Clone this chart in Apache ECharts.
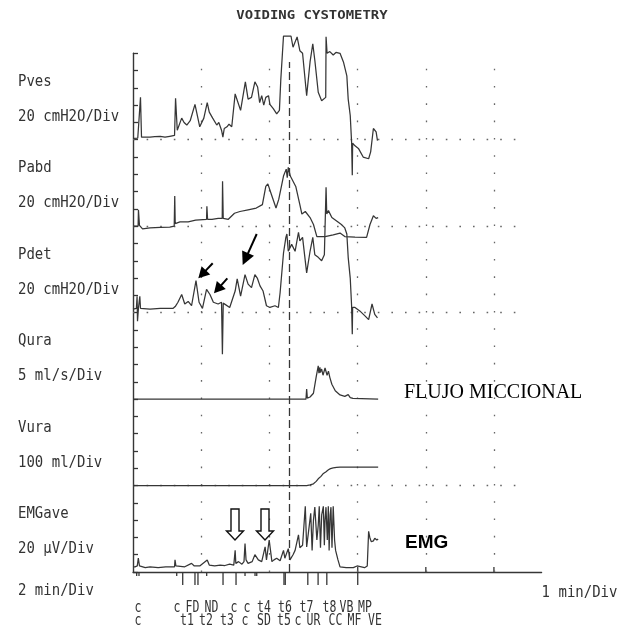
<!DOCTYPE html>
<html><head><meta charset="utf-8">
<script src="https://cdn.jsdelivr.net/npm/echarts@6/dist/echarts.min.js"></script>
<style>html,body{margin:0;padding:0;background:#fff}#c{width:628px;height:631px}</style>
</head><body><div id="c"></div>
<script>
// Time is in chart divisions (2 min/Div before the dashed marker, 1 min/Div after it).
// Each channel occupies 5 divisions; values are in the channel's own unit.
const title = 'VOIDING CYSTOMETRY';
const channelNames  = ['Pves', 'Pabd', 'Pdet', 'Qura', 'Vura', 'EMGave'];
const channelScales = ['20 cmH2O/Div', '20 cmH2O/Div', '20 cmH2O/Div', '5 ml/s/Div', '100 ml/Div', '20 µV/Div'];
const channelPerDiv = [20, 20, 20, 5, 100, 20];
const channelBase   = [25, 20, 15, 10, 5, 0];
const timeLeft = '2 min/Div';
const timeRight = '1 min/Div';

const pves = [[0,1.5],[0.07,2],[0.095,3],[0.11,49],[0.125,3],[0.25,3],[0.32,3.5],[0.40,4],[0.47,3],[0.54,4],[0.61,5],[0.625,48],[0.65,11],[0.715,25],[0.75,20],[0.79,17],[0.84,22],[0.91,41],[0.98,15],[1.04,25],[1.09,43],[1.12,32],[1.17,25],[1.23,17],[1.26,20],[1.30,11],[1.32,3],[1.34,13],[1.38,15],[1.41,18],[1.45,15],[1.50,53],[1.52,55],[1.58,34],[1.65,67],[1.69,47],[1.74,49],[1.79,67],[1.83,61],[1.86,43],[1.89,51],[1.92,40],[1.95,49],[1.99,51],[2.01,41],[2.06,36],[2.11,30],[2.15,34],[2.17,69],[2.21,120],[2.32,120],[2.35,107],[2.41,119],[2.45,103],[2.49,100],[2.54,59],[2.55,51],[2.60,90],[2.64,111],[2.67,92],[2.72,55],[2.77,45],[2.79,43],[2.83,49],[2.835,119],[2.85,100],[2.89,102],[2.94,98],[2.98,101],[3.04,100],[3.09,90],[3.14,74],[3.16,47],[3.19,28],[3.21,-3],[3.22,-41],[3.225,-4],[3.26,-7],[3.31,-10],[3.38,-20],[3.46,-22],[3.49,-14],[3.53,13],[3.57,9],[3.59,-1]];
const pabd = [[0,0],[0.075,0],[0.08,19],[0.095,1],[0.14,-3],[0.25,-2],[0.40,-1.5],[0.54,-1],[0.605,0],[0.613,35],[0.62,3],[0.69,5],[0.81,5],[0.92,7],[1.08,8],[1.085,23],[1.095,8],[1.16,8],[1.25,9],[1.31,9],[1.315,52],[1.325,9],[1.40,8],[1.49,15],[1.57,17],[1.69,19],[1.81,21],[1.90,25],[1.95,46],[1.98,49],[2.04,35],[2.10,21],[2.14,31],[2.21,58],[2.25,66],[2.265,56],[2.28,68],[2.31,58],[2.39,46],[2.45,25],[2.48,14],[2.53,17],[2.60,10],[2.65,2],[2.70,-12],[2.82,-12],[2.94,-10],[3.04,-8],[3.11,-12],[3.26,-12.5],[3.43,-13],[3.48,2],[3.53,12],[3.57,9],[3.60,10]];
const pdet = [[0,4],[0.05,5],[0.06,19],[0.066,-10],[0.08,5],[0.10,19],[0.11,5],[0.25,4],[0.40,5],[0.59,5],[0.62,7],[0.66,12],[0.715,21],[0.76,10],[0.81,13],[0.86,8],[0.925,37],[0.97,12],[1.02,5],[1.08,27],[1.13,21],[1.18,12],[1.25,10],[1.30,12],[1.313,-48],[1.325,11],[1.35,10],[1.42,6],[1.50,25],[1.53,39],[1.58,19],[1.645,44],[1.69,33],[1.74,29],[1.79,44],[1.825,40],[1.865,31],[1.91,25],[1.96,8],[2.01,6],[2.085,8],[2.135,6],[2.16,23],[2.21,69],[2.245,87],[2.26,91],[2.28,71],[2.33,79],[2.38,71],[2.43,93],[2.45,83],[2.49,87],[2.55,46],[2.60,71],[2.64,87],[2.67,67],[2.72,64],[2.77,60],[2.81,67],[2.827,66],[2.835,145],[2.845,114],[2.87,118],[2.92,110],[2.99,106],[3.06,102],[3.11,98],[3.14,91],[3.16,64],[3.19,40],[3.21,8],[3.22,-25],[3.225,6],[3.26,6],[3.33,2],[3.41,-4],[3.46,-8],[3.51,10],[3.55,-2],[3.59,-6]];
const qura = [[0,0],[2.54,0],[2.55,2.9],[2.56,0.3],[2.60,0.6],[2.65,1.7],[2.69,6.4],[2.72,9.6],[2.73,7.5],[2.745,9.2],[2.75,7.7],[2.77,8.7],[2.79,6.9],[2.82,9],[2.85,6.9],[2.87,8.1],[2.89,6.3],[2.92,4.3],[2.97,2.4],[3.04,1.2],[3.11,0.8],[3.16,1.3],[3.19,0.4],[3.23,0.2],[3.60,0]];
const vura = [[0,0],[2.55,0],[2.60,4],[2.65,10],[2.69,24],[2.72,39],[2.76,53],[2.79,68],[2.83,79],[2.87,91],[2.90,98],[2.94,102],[2.99,105],[3.04,106],[3.60,106]];
const emg = [[0,6],[0.03,6],[0.063,7],[0.078,16],[0.095,7],[0.18,5],[0.25,6],[0.37,5],[0.48,6],[0.61,6],[0.617,14],[0.63,7],[0.76,6],[0.86,10],[0.90,7],[0.98,7],[1.09,14],[1.12,8],[1.20,7],[1.28,8],[1.35,7.5],[1.42,9],[1.48,8],[1.50,25],[1.51,10],[1.55,12],[1.60,9],[1.63,12],[1.645,33],[1.66,14],[1.69,10],[1.75,12],[1.79,20],[1.84,14],[1.89,12],[1.94,29],[1.96,14],[2.00,37],[2.04,12],[2.07,14],[2.11,16],[2.16,13],[2.21,25],[2.23,16],[2.28,27],[2.305,14],[2.35,20],[2.38,25],[2.43,43],[2.45,28],[2.49,31],[2.53,76],[2.55,29],[2.575,45],[2.61,68],[2.63,25],[2.65,60],[2.67,75],[2.70,37],[2.72,54],[2.735,76],[2.753,28],[2.771,66],[2.795,76],[2.81,31],[2.82,60],[2.834,75],[2.853,37],[2.868,76],[2.88,25],[2.895,66],[2.907,75],[2.922,28],[2.94,76],[2.96,37],[2.975,25],[2.99,23],[3.01,14],[3.04,6],[3.13,5],[3.235,5],[3.29,7],[3.40,5],[3.44,7],[3.46,47],[3.48,39],[3.50,35],[3.53,36],[3.55,39],[3.58,37],[3.60,38]];
const traces = [pves, pabd, pdet, qura, vura, emg];

// event marks under the time axis and their printed codes
const eventTimes = [0.054,0.088,0.642,0.730,0.910,0.954,1.082,1.322,1.513,1.645,1.792,1.817,2.217,2.236,2.567,2.718,2.846,3.300];
const eventKinds = ['minor','minor','minor','major','major','major','minor','major','major','minor','minor','minor','major','major','major','major','major','major'];
const row1Labels = ['c','c','FD','ND','c','c','t4','t6','t7','t8','VB','MP'];
const row1Times  = [0.073,0.646,0.874,1.153,1.483,1.674,1.924,2.232,2.548,2.885,3.135,3.407];
const row2Labels = ['c','t1','t2','t3','c','SD','t5','c','UR','CC','MF','VE'];
const row2Times  = [0.073,0.793,1.072,1.381,1.645,1.924,2.218,2.423,2.651,2.974,3.253,3.554];
const gridTimes = [1, 2, 3.3, 4.3, 5.3];
const markerTime = 2.295;
const annotFlow = 'FLUJO MICCIONAL';
const annotEmg = 'EMG';

const INK = '#363636';
const chart = echarts.init(document.getElementById('c'), null, {renderer: 'canvas'});

const gridLines = gridTimes.map(t => [{coord:[t,0]},{coord:[t,30]}]);
const baseLines = [25,20,15,5].map(b => [{coord:[0,b]},{coord:[5.75,b]}]);

const series = traces.map((tr, i) => ({
  type: 'line', name: channelNames[i], showSymbol: false, clip: false, silent: true,
  data: tr.map(([t, v]) => [t, channelBase[i] + v / channelPerDiv[i]]),
  lineStyle: {color: INK, width: 1.25}, animation: false, z: 5
}));

function markSeries(data, lineStyle) {
  return {type: 'line', data: [], silent: true, animation: false,
    markLine: {silent: true, symbol: ['none','none'], label: {show: false}, animation: false, data, lineStyle}};
}
series.push(markSeries(gridLines, {type: [1.6, 15.7], color: '#666', width: 1.3}));
series.push(markSeries(baseLines, {type: [1.6, 12.0], color: '#666', width: 1.3}));
series.push(markSeries([[{coord:[markerTime,0]},{coord:[markerTime,29.5]}]], {type: [8, 4], color: INK, width: 1.3}));
series.push({
  type: 'custom', coordinateSystem: 'cartesian2d', clip: false, silent: true, animation: false,
  data: eventTimes.map((t, i) => [t, eventKinds[i] === 'major' ? 2 : 1]).concat(gridTimes.filter(t => t > 3).map(t => [t, 0])),
  renderItem: (params, api) => {
    const t = api.value(0), k = api.value(1);
    const p = api.coord([t, 0]);
    const len = k === 2 ? 13 : (k === 1 ? 4 : -5);
    return {type: 'line', shape: {x1: p[0], y1: p[1], x2: p[0], y2: p[1] + len},
            style: {stroke: INK, lineWidth: 1.3}};
  }
});

chart.setOption({
  backgroundColor: '#fff',
  animation: false,
  grid: {left: 133, right: 86.4, top: 53.3, bottom: 59},
  xAxis: {type: 'value', min: 0, max: 6, axisLine: {show: true, onZero: false, lineStyle: {color: INK, width: 1.3}},
          axisTick: {show: false}, axisLabel: {show: false}, splitLine: {show: false}},
  yAxis: {type: 'value', min: 0, max: 30, interval: 1, axisLine: {show: true, lineStyle: {color: INK, width: 1.4}},
          axisTick: {show: true, inside: true, length: 5, lineStyle: {color: INK, width: 1.3}},
          axisLabel: {show: false}, splitLine: {show: false}},
  series
});

function px(t, v) { return chart.convertToPixel({gridIndex: 0}, [t, v]); }
const MONO = '"DejaVu Sans Mono", "Liberation Mono", monospace';
function mono(x, y, s, size, sx, sy, align, weight) {
  return {type: 'text', x, y, scaleX: sx, scaleY: sy, silent: true, z: 10,
          style: {text: s, font: (weight || 'normal') + ' ' + size + 'px ' + MONO, fill: '#333',
                  textAlign: align || 'left', textVerticalAlign: 'middle'}};
}
function solidArrow(x1, y1, x2, y2, hl, hw) {
  const dx = x2 - x1, dy = y2 - y1, L = Math.hypot(dx, dy), ux = dx / L, uy = dy / L;
  const bx = x2 - ux * hl, by = y2 - uy * hl;
  return [
    {type: 'line', silent: true, z: 12, shape: {x1, y1, x2: bx + ux, y2: by + uy}, style: {stroke: '#000', lineWidth: 2}},
    {type: 'polygon', silent: true, z: 12, shape: {points: [[x2, y2], [bx - uy * hw, by + ux * hw], [bx + uy * hw, by - ux * hw]]}, style: {fill: '#000'}}
  ];
}
function hollowArrow(cx) {
  return {type: 'polygon', silent: true, z: 12,
    shape: {points: [[cx - 4, 509], [cx + 4, 509], [cx + 4, 531], [cx + 8.5, 531], [cx, 540], [cx - 8.5, 531], [cx - 4, 531]]},
    style: {fill: '#fff', stroke: '#111', lineWidth: 1.4}};
}

const g = [];
g.push(mono(312, 16, title, 10.5, 1.33, 1.1, 'center', 'bold'));
channelNames.forEach((n, i) => {
  const yb = px(0, channelBase[i])[1];
  g.push(mono(18, yb - 58, n, 14, 1.0, 1.15));
  g.push(mono(18, yb - 23, channelScales[i], 14, 1.0, 1.15));
});
const yAxisBottom = px(0, 0)[1];
g.push(mono(18, yAxisBottom + 19, timeLeft, 14, 1.0, 1.15));
g.push(mono(px(6, 0)[0], yAxisBottom + 21, timeRight, 14, 1.0, 1.15));
row1Labels.forEach((s, i) => g.push(mono(px(row1Times[i], 0)[0], yAxisBottom + 36, s, 11.5, 1.0, 1.4, 'center')));
row2Labels.forEach((s, i) => g.push(mono(px(row2Times[i], 0)[0], yAxisBottom + 49, s, 11.5, 1.0, 1.4, 'center')));

g.push(...solidArrow(212.7, 263.3, 198.3, 278.3, 11, 6));
g.push(...solidArrow(227.3, 278.3, 214, 293.3, 11, 6));
g.push(...solidArrow(256.7, 234, 242.7, 265, 13, 6.5));
g.push(hollowArrow(235));
g.push(hollowArrow(265));

g.push({type: 'text', x: 404, y: 393, silent: true, z: 10,
  style: {text: annotFlow, font: 'normal 20px "Liberation Serif", "Times New Roman", serif', fill: '#000', textAlign: 'left', textVerticalAlign: 'middle'}});
g.push({type: 'text', x: 405, y: 543, silent: true, z: 10,
  style: {text: annotEmg, font: 'bold 19px "Liberation Sans", Arial, sans-serif', fill: '#000', textAlign: 'left', textVerticalAlign: 'middle'}});

chart.setOption({graphic: {elements: g}});
</script></body></html>
